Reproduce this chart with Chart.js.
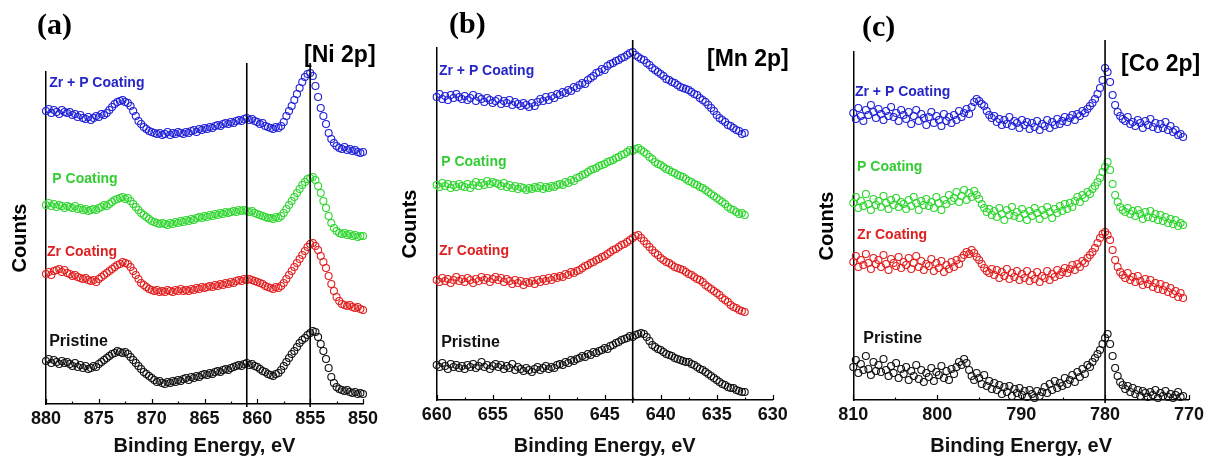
<!DOCTYPE html>
<html>
<head>
  <meta charset="UTF-8">
  <title>XPS Ni 2p / Mn 2p / Co 2p</title>
  <script src="https://cdn.jsdelivr.net/npm/chart.js"></script>
  <style>
    body {
      margin: 0;
      background: #fff;
      font-family: "Liberation Sans", Arial, sans-serif;
    }
    .panel {
      position: absolute;
      top: 0;
    }
  </style>
</head>
<body>

  <canvas class="panel" id="niChart" width="390" height="458" style="left:0px"></canvas>
  <canvas class="panel" id="mnChart" width="410" height="458" style="left:390px"></canvas>
  <canvas class="panel" id="coChart" width="401" height="458" style="left:807px"></canvas>

  <script>
    // energy grids (eV) : start and sampling step of each scan
    const niStart = 880, niStep = 0.25;
    const mnStart = 660, mnStep = 0.25;
    const coStart = 810, coStep = 0.3;

    const seriesNames = ['Zr + P Coating', 'P Coating', 'Zr Coating', 'Pristine'];

    // Ni 2p counts (offset, arb. units)
    const niZrP = [293,295,291,294,292,290,294,292,291, 292,289,290,287,289,286,285,287,284, 286,288,287,290,289,291,
      294,297,300,302,303, 304,302,301, 298,293,288,283,280, 277,275,273,272,271,270,271,269,
      270,272,269,271,270,272,271,270, 272,271,273,274,272,275,274,276,275, 277,276,278,279,278,280,281,280,
      282,281,283,284,283,285,286, 284,285,283,282,280,281,278,277, 276,275,277,276,278,
      282,288,293,298,304,310,316,322,327,330,331,328,318,307,296,288,280,271,265,261,258,256,255,257,254,255,253,254,252,251,252];
    const niP = [199,201,198,200,197,199,198,196,198, 197,196,198,195,196,194,195,193,194, 195,194,196,197,199,198,
      200,202,204,205,206, 207,205,206, 203,200,197,194,191, 189,187,185,183,182,181,180,181,
      180,179,181,180,182,181,183,182, 184,183,185,184,186,187,186,188,187, 189,188,190,189,191,190,192,191,
      192,193,192,194,193,194,193, 192,193,191,190,189,188,187,186, 186,185,187,186,188,
      191,195,199,203,207,211,215,219,222,225,226,227,224,218,211,203,196,188,181,176,173,171,170,171,169,170,168,169,167,168,168];
    const niZr = [130,132,129,133,134,135,132,134,131, 130,128,129,127,126,125,126,124,123, 124,122,125,127,129,131,
      133,135,137,139,140, 142,141,140, 137,133,129,125,121, 119,117,115,114,113,114,112,113,
      112,114,113,112,114,113,115,113, 114,113,115,114,116,115,117,116,117, 118,117,119,118,120,119,121,120,
      122,121,123,124,123,125,124, 125,124,123,122,121,120,118,117, 116,115,117,116,118,
      121,125,129,133,137,141,145,149,153,157,160,161,158,154,148,142,136,128,120,113,107,103,100,99,98,99,97,96,97,95,94];
    const niPristine = [43,45,41,44,42,40,43,41,42, 40,38,41,37,39,36,38,35,36, 38,37,40,42,44,46,
      48,50,51,53,52, 51,52,50, 47,44,41,38,35, 32,30,28,26,24,22,23,21,
      20,22,21,23,22,24,23,25, 26,24,27,26,28,27,29,30,29, 31,30,32,33,32,34,35,34,
      36,37,38,39,38,40,41, 39,40,38,37,35,33,32,30, 29,28,30,31,34,
      38,42,46,50,53,57,61,64,66,69,71,73,72,67,60,53,45,36,27,21,17,15,14,13,14,12,11,12,10,11,10];

    // Mn 2p counts
    const mnZrP = [303,306,301,304,300,305,302,306,303,301, 304,300,302,305,299,303,301,298,302,300,297,299,
      301,296,299,297,300,295,298,296,294,297,295,293, 297,294,298,301,299,303, 300,304,302,306,305,308,
      307,310,309,313,312,315, 317,316,320,322,324,327, 328,331,330,334,336,337, 339,340,342,343,345,347,348,
      345,343,341,340, 337,335,332,330, 328,326,324,321,320,318, 317,315,313,312,311,310,
      308,306,305,302,300,298, 295,292,289,285,282, 280,278,275,274,272, 270,269,266,267];
    const mnP = [215,213,217,214,216,212,215,213,216,214, 213,216,212,215,218,214,217,215,219,216,218,217,
      216,214,217,213,215,212,214,211,213,212,210,212, 211,213,212,214,211,213,212,214,213,215,
      216,215,218,217,220,219,222,223, 225,226,228,230,231,232, 234,235,236,238,239,240,
      242,243,245,246,248,250,249,251,252, 250,248,246,243, 241,238,236,235,233,
      231,230,228,227,225,224,223, 221,219,218,216,215,213,212, 210,208,206,204,202,200,
      198,196,193,191,190, 188,186,187,185];
    const mnZr = [120,118,122,119,121,117,120,123,119,121, 118,122,120,117,121,119,123,120,122,118,121,123,
      120,122,118,121,119,116,120,117,119,115,118,117, 119,116,120,118,121,119,122,120,123,122,
      124,123,126,125,128,127,129,130, 132,134,135,137,138,140, 141,143,144,146,148,150,
      151,153,155,156,158,160,162,164,165, 162,159,156,153, 150,147,145,142,140,
      138,137,135,133,132,131,130, 128,126,125,123,121,120,118, 115,113,111,109,107,105,
      102,100,98,95,93, 92,90,89,88];
    const mnPristine = [35,33,37,34,31,36,33,35,32,34, 31,35,33,36,32,34,38,33,35,31,34,36,
      33,35,31,34,32,36,30,33,31,29,32,30, 28,31,33,30,32,34,31,33,32,35,
      36,35,38,37,40,39,41,42, 44,43,46,45,48,47,49,50, 52,51,54,55,57,58,60,
      61,62,64,63,65,66,67,66, 63,59,55, 53,51,50,48,46,45, 44,42,41,40,39,38,38,
      36,35,33,31,30,28, 26,24,22,20,18, 16,15,13,12,12, 10,9,8,8];

    // Co 2p counts
    const coZrP = [287,281,292,284,279,290,285,295,288,282, 291,286,280,289,284,293,283,287,279,290,
      285,281,288,276,284,290,279,286,282,275, 283,288,277,284,280,274,286,279,283,277,
      285,280,289,283,287,291,286,293,298,301, 299,296,294,289,285,282,
      284,278,281,275,280,276,283,274,279,277, 272,280,275,278,271,277,273,279,270,276,
      274,280,272,278,275,281,276,279,283,278, 282,285,280,286,284,289,287,291,
      294,297,301,306,312,320, 332,328,318,305,295, 288,284,281,279,283,276,278,
      274,280,277,272,279,275,281,273,277,271, 276,272,278,270,274,268,270,265,266,263];
    const coP = [197,203,192,199,194,206,196,190,201,195, 199,193,204,197,191,200,195,202,193,198,
      196,191,200,194,203,197,190,199,195,201, 194,198,192,203,197,190,200,196,205,199,
      202,208,198,204,210,200,207,203,209,205, 201,196,192,188,191,185,
      189,183,192,186,180,190,185,193,184,188, 182,191,186,180,189,184,192,187,181,190,
      185,193,188,182,191,187,194,189,196,191, 197,193,199,203,198,205,202,208,
      206,211,214,218,222,228, 233,238,230,216,205, 198,193,190,188,192,186,189,
      184,190,186,181,188,183,189,182,186,180, 185,179,183,177,181,176,180,174,177,175];
    const coZr = [138,144,133,140,135,146,137,131,142,136, 140,133,145,136,130,141,137,134,143,132,
      138,135,142,131,137,144,133,139,130,136, 134,141,129,137,132,139,128,135,131,138,
      133,140,136,142,145,148,146,150,147,143, 140,136,132,129,127,131,
      125,130,122,128,124,131,121,127,123,129, 120,126,122,129,119,125,121,128,118,124,
      122,129,120,126,123,130,125,128,132,127, 131,135,130,136,133,139,137,142,
      145,148,152,157,162,166, 168,165,160,150,140, 133,128,125,122,127,120,123,
      118,124,119,115,121,116,120,113,117,111, 116,110,114,108,112,106,109,103,107,102];
    const coPristine = [33,40,27,36,30,44,31,25,38,29, 35,28,41,30,24,34,27,37,22,31,
      26,33,20,29,24,35,21,30,18,27, 23,32,19,28,25,34,22,29,20,31,
      26,33,38,35,41,37,30,24,20,27, 22,16,25,14,19,11,
      17,10,15,6,13,8,14,4,11,7, 12,5,9,3,10,6,2,9,4,8,
      13,7,16,10,19,12,17,14,22,16, 20,25,18,28,23,31,26,35,
      33,38,42,46,50,56, 62,66,56,44,32, 24,18,15,11,14,8,12,
      6,10,4,9,7,3,8,5,10,2, 7,4,9,3,6,2,5,8,3,4];

    const pointColors = ['#2020d8', '#2ed62e', '#e21f1f', '#111111'];
    const labelColors = ['#2626c6', '#33cc33', '#dd2020', '#111111'];

    function toPoints(start, step, values) {
      return values.map((v, i) => ({ x: +(start - i * step).toFixed(2), y: v }));
    }

    // draws inward ticks, marker lines, curve labels and panel tags
    const decor = {
      id: 'decor',
      afterDraw(chart, args, opts) {
        const { ctx, chartArea, scales: { x, y } } = chart;
        ctx.save();

        ctx.strokeStyle = '#000';
        ctx.lineWidth = 1.2;
        x.ticks.forEach(t => {
          const px = Math.round(x.getPixelForValue(t.value)) + 0.5;
          const len = t.value % opts.major === 0 ? 5 : 2.5;
          ctx.beginPath();
          ctx.moveTo(px, chartArea.bottom);
          ctx.lineTo(px, chartArea.bottom - len);
          ctx.stroke();
        });

        ctx.lineWidth = 1.6;
        opts.lines.forEach(e => {
          const px = x.getPixelForValue(e);
          ctx.beginPath();
          ctx.moveTo(px, y.getPixelForValue(opts.lineTop));
          ctx.lineTo(px, chartArea.bottom + 3);
          ctx.stroke();
        });

        ctx.textBaseline = 'middle';
        ctx.textAlign = 'left';
        opts.labels.forEach((l, i) => {
          ctx.font = 'bold ' + (i === 3 ? 16 : 14) + 'px "Liberation Sans", Arial';
          ctx.fillStyle = labelColors[i];
          ctx.fillText(seriesNames[i], x.getPixelForValue(l[0]), y.getPixelForValue(l[1]));
        });

        ctx.fillStyle = '#000';
        ctx.font = 'bold 23px "Liberation Sans", Arial';
        ctx.fillText(opts.tag[0], opts.tag[1], opts.tag[2]);
        ctx.font = 'bold 30px "Liberation Serif", "Times New Roman", serif';
        ctx.fillText(opts.letter[0], opts.letter[1], opts.letter[2]);

        ctx.restore();
      }
    };

    function makePanel(id, p) {
      const datasets = p.series.map((vals, i) => ({
        label: seriesNames[i],
        data: toPoints(p.start, p.step, vals),
        pointStyle: 'circle',
        pointRadius: 3.5,
        pointBorderWidth: 1.1,
        pointBorderColor: pointColors[i],
        pointBackgroundColor: 'rgba(0,0,0,0)',
        showLine: false,
        clip: false
      }));

      new Chart(document.getElementById(id), {
        type: 'scatter',
        data: { datasets },
        plugins: [decor],
        options: {
          responsive: false,
          animation: false,
          events: [],
          devicePixelRatio: 1,
          layout: { padding: { left: 0, right: p.padRight, top: p.padTop, bottom: 0 } },
          plugins: {
            legend: { display: false },
            tooltip: { enabled: false },
            decor: { major: p.major, lines: p.lines, lineTop: p.lineTop, labels: p.labels, tag: p.tag, letter: p.letter }
          },
          scales: {
            x: {
              type: 'linear',
              reverse: true,
              min: p.xMin,
              max: p.xMax,
              grid: { display: false, drawTicks: false },
              border: { display: true, color: '#000', width: 1.5 },
              ticks: {
                stepSize: p.minor,
                autoSkip: false,
                maxRotation: 0,
                padding: 4,
                color: '#111',
                font: { family: '"Liberation Sans", Arial', size: 18, weight: 'bold' },
                callback: v => (v % p.major === 0 ? v : '')
              },
              title: {
                display: true,
                text: 'Binding Energy, eV',
                color: '#111',
                padding: { top: 0, bottom: 0 },
                font: { family: '"Liberation Sans", Arial', size: 20, weight: 'bold' }
              },
              afterFit: s => { s.height = p.xAxisH; }
            },
            y: {
              min: 0,
              max: p.yMax,
              grid: { display: false },
              border: { display: true, color: '#000', width: 1.5 },
              ticks: { display: false },
              title: {
                display: true,
                text: 'Counts',
                color: '#000',
                padding: { top: 8, bottom: 0 },
                font: { family: '"Liberation Sans", Arial', size: 20, weight: 'bold' }
              },
              afterFit: s => { s.width = p.axisW; }
            }
          }
        }
      });
    }

    makePanel('niChart', {
      series: [niZrP, niP, niZr, niPristine], start: niStart, step: niStep,
      xMin: 850, xMax: 880, minor: 2.5, major: 5, yMax: 332,
      axisW: 46, padRight: 27, padTop: 72, xAxisH: 54,
      lines: [861, 855], lineTop: 341,
      labels: [[879.7, 321], [879.4, 225], [879.9, 152], [879.7, 62]],
      tag: ['[Ni 2p]', 304, 56], letter: ['(a)', 37, 26]
    });

    makePanel('mnChart', {
      series: [mnZrP, mnP, mnZr, mnPristine], start: mnStart, step: mnStep,
      xMin: 630, xMax: 660, minor: 2.5, major: 5, yMax: 352,
      axisW: 46.7, padRight: 27.3, padTop: 48, xAxisH: 58,
      lines: [642.5], lineTop: 360,
      labels: [[659.8, 329], [659.6, 238], [659.8, 149], [659.6, 57]],
      tag: ['[Mn 2p]', 317, 60], letter: ['(b)', 59, 25]
    });

    makePanel('coChart', {
      series: [coZrP, coP, coZr, coPristine], start: coStart, step: coStep,
      xMin: 770, xMax: 810, minor: 5, major: 10, yMax: 348,
      axisW: 46.3, padRight: 15, padTop: 52, xAxisH: 58,
      lines: [780], lineTop: 360,
      labels: [[809.8, 308], [809.55, 233], [809.55, 165], [808.8, 61]],
      tag: ['[Co 2p]', 314, 65], letter: ['(c)', 55, 28]
    });
  </script>

</body>
</html>
